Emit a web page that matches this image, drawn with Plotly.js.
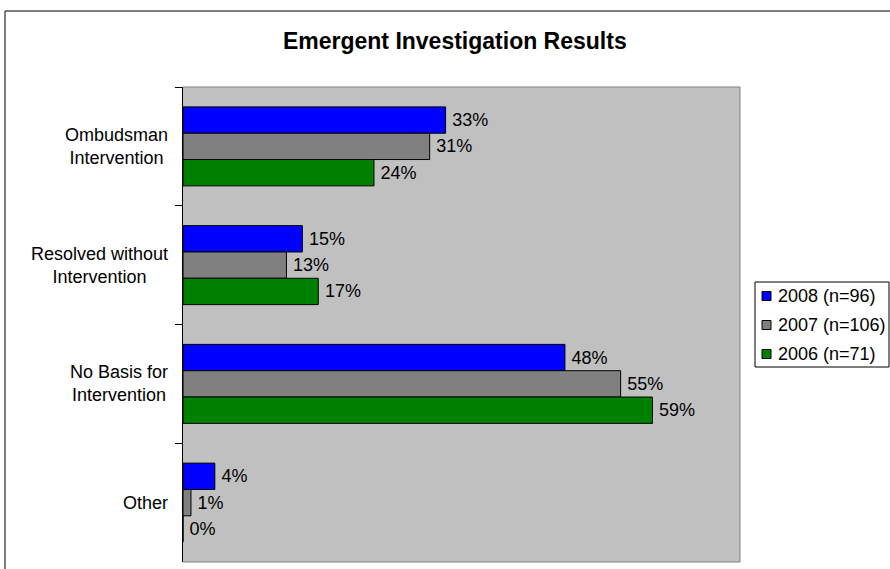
<!DOCTYPE html>
<html>
<head>
<meta charset="utf-8">
<script src="https://cdn.plot.ly/plotly-3.0.1.min.js"></script>
<style>
  html, body { margin: 0; padding: 0; background: #ffffff; }
  #chart { width: 890px; height: 569px; }
</style>
</head>
<body>
<div id="chart"></div>
<script>
// ---- Data ----
const chartTitle = "Emergent Investigation Results";
const categories = ["Ombudsman Intervention", "Resolved without Intervention", "No Basis for Intervention", "Other"];
const categoryLabels = ["Ombudsman<br>Intervention", "Resolved without<br>Intervention", "No Basis for<br>Intervention", "Other"];
const seriesNames = ["2008 (n=96)", "2007 (n=106)", "2006 (n=71)"];
const values2008 = [33, 15, 48, 4];
const values2007 = [31, 13, 55, 1];
const values2006 = [24, 17, 59, 0];
const seriesColors = ["#0000FF", "#808080", "#008000"];

const FONT = "Liberation Sans, Arial, Helvetica, sans-serif";
const allValues = [values2008, values2007, values2006];

// plot-area geometry (pixels) used to place the paper-referenced decorations
const M = { l: 183, r: 150, t: 87, b: 7 };
const W = 890, H = 569;
const PW = W - M.l - M.r, PH = H - M.t - M.b;
const px2x = px => (px - M.l) / PW;
const px2y = py => (H - M.b - py) / PH;

const traces = allValues.map((vals, i) => ({
  type: "bar",
  orientation: "h",
  name: seriesNames[i],
  y: categories,
  x: vals,
  marker: { color: seriesColors[i], line: { color: "#000000", width: 1 } },
  text: vals.map(v => "\u2009" + v + "%"),
  textposition: "outside",
  textfont: { family: FONT, size: 18, color: "#000000" },
  constraintext: "none",
  cliponaxis: false,
  showlegend: false,
  hoverinfo: "x+name"
}));

const annotations = categories.map((c, i) => ({
  xref: "paper", yref: "y",
  x: px2x(170), y: c,
  xanchor: "right", yanchor: "middle",
  align: "center",
  text: categoryLabels[i],
  showarrow: false,
  font: { family: FONT, size: 18, color: "#000000" }
}));

// custom legend (box, swatches, names)
const legendBox = { x0: 755, x1: 889, y0: 282, y1: 367 };
const rowY = [296, 325, 354];
const shapes = [
  // plot-area border (top, right, bottom) in gray
  { type: "path", xref: "paper", yref: "paper", layer: "below",
    path: "M 0 1 L 1 1 L 1 0 L 0 0",
    line: { color: "#808080", width: 1 } },
  // outer chart frame
  { type: "rect", xref: "paper", yref: "paper",
    x0: px2x(5), x1: 1.5, y0: -0.3, y1: px2y(11),
    line: { color: "#000000", width: 1 }, fillcolor: "rgba(0,0,0,0)" },
  // legend box
  { type: "rect", xref: "paper", yref: "paper",
    x0: px2x(legendBox.x0), x1: px2x(legendBox.x1),
    y0: px2y(legendBox.y1), y1: px2y(legendBox.y0),
    line: { color: "#000000", width: 1 }, fillcolor: "#ffffff" }
];
seriesNames.forEach((name, i) => {
  shapes.push({ type: "rect", xref: "paper", yref: "paper",
    x0: px2x(762), x1: px2x(771), y0: px2y(rowY[i] + 4.5), y1: px2y(rowY[i] - 4.5),
    line: { color: "#000000", width: 1 }, fillcolor: seriesColors[i] });
  annotations.push({ xref: "paper", yref: "paper",
    x: px2x(776), y: px2y(rowY[i]), xanchor: "left", yanchor: "middle",
    text: name, showarrow: false,
    font: { family: FONT, size: 18, color: "#000000" } });
});

const layout = {
  width: W, height: H,
  margin: { l: M.l, r: M.r, t: M.t, b: M.b, autoexpand: false },
  paper_bgcolor: "#ffffff",
  plot_bgcolor: "#C0C0C0",
  title: {
    text: "<b>" + chartTitle + "</b>",
    font: { family: FONT, size: 23, color: "#000000" },
    xref: "paper", x: 0.488, xanchor: "center",
    yref: "container", y: 0.928, yanchor: "middle"
  },
  barmode: "group",
  bargap: 0.335,
  bargroupgap: 0,
  showlegend: false,
  xaxis: {
    range: [0, 70],
    showticklabels: false, showgrid: false, zeroline: false,
    ticks: "", showline: false, fixedrange: true
  },
  yaxis: {
    type: "category",
    categoryorder: "array", categoryarray: categories,
    autorange: "reversed",
    showticklabels: false, showgrid: false, zeroline: false,
    ticks: "outside", tickson: "boundaries", ticklen: 7, tickcolor: "#000000", tickwidth: 1,
    showline: true, linecolor: "#000000", linewidth: 1, fixedrange: true
  },
  shapes: shapes,
  annotations: annotations
};

Plotly.newPlot("chart", traces, layout, { displayModeBar: false, staticPlot: true });
</script>
</body>
</html>
